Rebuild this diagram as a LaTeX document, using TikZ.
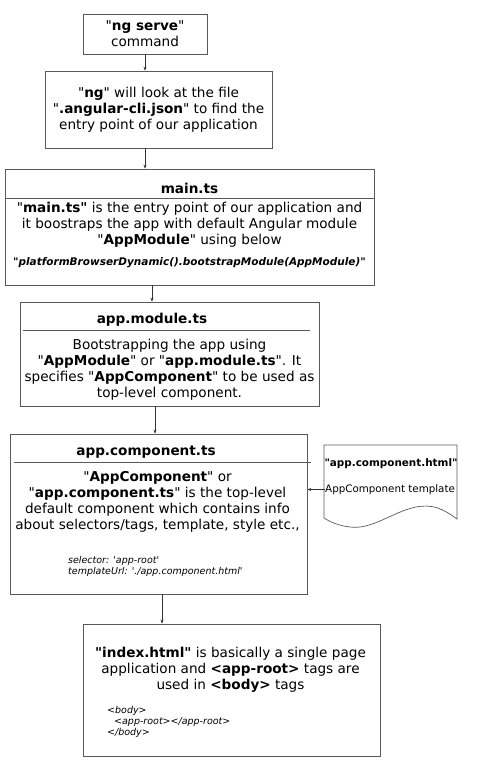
\documentclass[tikz,border=0pt]{standalone}
\usepackage{fontspec}
\setmainfont{DejaVu Sans}
\usetikzlibrary{arrows.meta}
\newcommand{\qq}{\textquotedbl}
\newcommand{\sq}{\textquotesingle}

\begin{document}
\begin{tikzpicture}[x=1pt,y=-1pt,
  box/.style={draw=black!65,line width=0.7pt,inner sep=0pt},
  txt/.style={align=center,inner sep=0pt,font=\fontsize{13.6}{16}\selectfont},
  head/.style={inner sep=0pt,font=\fontsize{13.6}{16}\selectfont\bfseries},
  code/.style={align=left,inner sep=0pt,font=\fontsize{9.5}{11}\selectfont\itshape},
  arr/.style={-{Stealth[length=4pt,width=3pt]},draw=black!80,line width=0.5pt}]
\useasboundingbox (0,0) rectangle (490,762);

   \draw (145,34) node[box,txt,minimum width=124pt,minimum height=40pt] (serve) {\qq\textbf{ng serve}\qq\\command};
   \draw (158.5,109.5) node[box,txt,minimum width=227pt,minimum height=77pt] (cli) {\qq\textbf{ng}\qq{} will look at the file\\\qq\textbf{.angular-cli.json}\qq{} to find the\\entry point of our application};

  \draw (189.5,227) node[box,minimum width=369pt,minimum height=116pt] (main) {};
  \draw (189.5,188) node[head] (maintitle) {main.ts};
  \draw[box] (5,198) -- (374,198);
  \draw (189.5,225) node[txt] (maintext) {\qq\textbf{main.ts\qq} is the entry point of our application and\\it boostraps the app with default Angular module\\\qq\textbf{AppModule}\qq{} using below};
  \draw (189.5,263) node[inner sep=0pt,font=\fontsize{10.5}{12}\selectfont\bfseries\itshape] (bootcall) {\qq platformBrowserDynamic().bootstrapModule(AppModule)\qq};

  \draw (169.5,354) node[box,minimum width=299pt,minimum height=104pt] (appmod) {};
  \draw (152,320) node[head] (appmodtitle) {app.module.ts};
  \draw[box] (23,330) -- (310,330);
  \draw (169.5,370) node[txt] (appmodtext) {Bootstrapping the app using\\\qq\textbf{AppModule}\qq{} or \qq\textbf{app.module.ts}\qq. It\\specifies \qq\textbf{AppComponent}\qq{} to be used as\\top-level component.};

  \draw (158.5,514) node[box,minimum width=297pt,minimum height=160pt] (appcomp) {};
  \draw (146,452) node[head] (appcomptitle) {app.component.ts};
  \draw[box] (14,462.5) -- (311,462.5);
  \draw (157.5,501.5) node[txt] (appcomptext) {\qq\textbf{AppComponent}\qq{} or\\\qq\textbf{app.component.ts}\qq{} is the top-level\\default component which contains info\\about selectors/tags, template, style etc.,};
  \draw (68,566.5) node[code,anchor=west] (appcompcode) {selector: \sq app-root\sq\\templateUrl: \sq./app.component.html\sq};

  % template document
  \draw[box] (324,445) -- (457,445) -- (457,519)
     .. controls (442,508) and (432,504) .. (416,507)
     .. controls (392,512) and (372,530) .. (350,527)
     .. controls (340,526) and (330,522) .. (324,518) -- cycle;
  \draw (391,463.5) node[inner sep=0pt,font=\fontsize{10.4}{12}\selectfont\bfseries] (tpltitle) {\qq app.component.html\qq};
  \draw (325,489.5) node[inner sep=0pt,anchor=west,font=\fontsize{10.3}{12}\selectfont] (tpl) {AppComponent template};

  \draw (231.5,690) node[box,minimum width=297pt,minimum height=132pt] (index) {};
  \draw (230.5,670) node[txt] (indextext) {\textbf{\qq index.html\qq} is basically a single page\\application and \textbf{<app-root>} tags are\\used in \textbf{<body>} tags};
  \draw (107,722) node[code,anchor=west] (indexcode) {<body>\\\hspace{7pt}<app-root></app-root>\\</body>};

  \coordinate (m2a) at ([xshift=-37.5pt]main.south);
  \coordinate (a2c) at ([xshift=-14.5pt]appmod.south);
  \coordinate (c2i) at ([xshift=3.5pt]appcomp.south);

    \draw[arr] (serve.south) -- (serve.south |- cli.north);
    \draw[arr] (cli.south -| serve.south) -- (main.north -| serve.south);
    \draw[arr] (m2a) -- (m2a |- appmod.north);
    \draw[arr] (a2c) -- (a2c |- appcomp.north);
    \draw[arr] (c2i) -- (c2i |- index.north);
    \draw[arr] (tpl.west) -- (tpl.west -| appcomp.east);

\end{tikzpicture}
\end{document}
